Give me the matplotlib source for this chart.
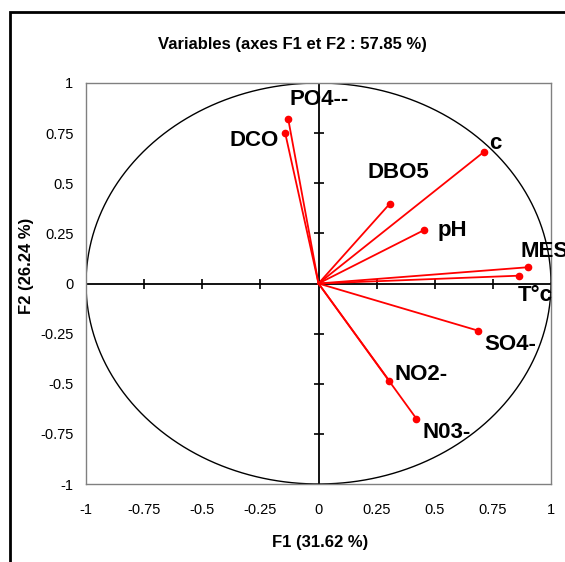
import matplotlib.pyplot as plt
import matplotlib.patches as mpatches
import numpy as np

plt.rcParams['font.family'] = ['Liberation Sans', 'DejaVu Sans']

# variable coordinates on F1 / F2
names = ["PO4--", "DCO", "c", "DBO5", "pH", "MES", "T°c", "SO4-", "NO2-", "N03-"]
f1 = [-0.13, -0.143, 0.711, 0.306, 0.455, 0.900, 0.862, 0.686, 0.305, 0.421]
f2 = [0.819, 0.749, 0.656, 0.397, 0.267, 0.081, 0.039, -0.235, -0.486, -0.674]

# label offsets in pixels (dx, dy) and horizontal alignment
label_offsets = [(1, 20, 'left'), (-7, -7, 'right'), (5, 8, 'left'),
                 (-22, 31, 'left'), (13, -1, 'left'), (-7, 16, 'left'),
                 (-1, -20, 'left'), (6, -14, 'left'), (5, 6, 'left'),
                 (6, -14, 'left')]

ticks = [-1, -0.75, -0.5, -0.25, 0, 0.25, 0.5, 0.75, 1]
tick_labels = ["-1", "-0.75", "-0.5", "-0.25", "0", "0.25", "0.5", "0.75", "1"]

fig = plt.figure(figsize=(5.65, 5.62), dpi=100)
ax = fig.add_axes([86 / 565, 78 / 562, 465 / 565, 401 / 562])

# outer frame of the chart (right and bottom run off the picture)
frame = mpatches.Rectangle((10 / 565, -0.2), 1.5, 0.2 + 550 / 562,
                           transform=fig.transFigure, fill=False,
                           edgecolor='black', linewidth=2, zorder=0)
fig.patches.append(frame)

# correlation circle
t = np.linspace(0, 2 * np.pi, 400)
ax.plot(np.cos(t), np.sin(t), color='black', linewidth=1)

# centre axes with their tick marks
ax.axhline(0, color='black', linewidth=1.3)
ax.axvline(0, color='black', linewidth=1.3)
inner = [v for v in ticks if v not in (-1, 0, 1)]
ax.plot(inner, [0] * len(inner), linestyle='none', marker='|', color='black',
        markersize=7, markeredgewidth=1.2)
ax.plot([0] * len(inner), inner, linestyle='none', marker='_', color='black',
        markersize=7, markeredgewidth=1.2)

# vectors
for x, y, name, (dx, dy, ha) in zip(f1, f2, names, label_offsets):
    ax.plot([0, x], [0, y], color='red', linewidth=1.3)
    ax.plot(x, y, 'o', color='red', markersize=4.5)
    ax.annotate(name, (x, y), xytext=(dx, dy), textcoords='offset pixels',
                ha=ha, va='center', fontsize=16, fontweight='bold',
                annotation_clip=False)

ax.set_xlim(-1, 1)
ax.set_ylim(-1, 1)
ax.set_xticks(ticks)
ax.set_xticklabels(tick_labels)
ax.set_yticks(ticks)
ax.set_yticklabels(tick_labels)
ax.tick_params(length=0, labelsize=10.5)
ax.tick_params(axis='x', pad=14)
ax.tick_params(axis='y', pad=9)
for s in ax.spines.values():
    s.set_color('#808080')
    s.set_linewidth(1)

fig.text(0.518, 0.92, "Variables (axes F1 et F2 : 57.85 %)", ha='center',
         va='center', fontsize=12, fontweight='bold')
fig.text(320 / 565, 1 - 543 / 562, "F1 (31.62 %)", ha='center', va='center',
         fontsize=12, fontweight='bold')
fig.text(27 / 565, 1 - 266 / 562, "F2 (26.24 %)", ha='center', va='center',
         fontsize=12, fontweight='bold', rotation=90)

plt.savefig("out.png", dpi=100)
